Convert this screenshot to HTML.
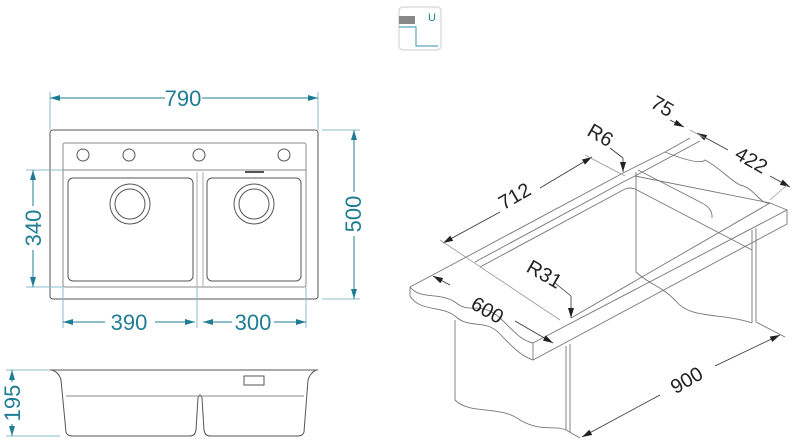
<!DOCTYPE html>
<html><head><meta charset="utf-8"><style>
html,body{margin:0;padding:0;background:#fff;}
svg{display:block;}
.t{font-family:"Liberation Sans",sans-serif;fill:#1f7d93;font-size:22px;}
.k{font-family:"Liberation Sans",sans-serif;fill:#222;font-size:20px;}
</style></head><body>
<svg width="800" height="448" viewBox="0 0 800 448" xmlns="http://www.w3.org/2000/svg">
<defs>
<marker id="a" viewBox="0 0 10 6" refX="10" refY="3" markerWidth="10" markerHeight="6" orient="auto-start-reverse" markerUnits="userSpaceOnUse"><path d="M0,0 L10,3 L0,6z" fill="#1f7d93"/></marker>
<marker id="b" viewBox="0 0 10 6" refX="10" refY="3" markerWidth="10" markerHeight="6" orient="auto-start-reverse" markerUnits="userSpaceOnUse"><path d="M0,0 L10,3 L0,6z" fill="#222"/></marker>
</defs>
<!-- icon -->
<rect x="399" y="7" width="42" height="43" rx="4" fill="#fff" stroke="#ccc"/>
<rect x="399" y="16" width="16" height="8" fill="#888"/>
<path d="M399,27 H416 V46 H438" fill="none" stroke="#5aa8c0" stroke-width="1.2"/>
<text x="428" y="21" font-family="Liberation Sans,sans-serif" font-size="11" fill="#1f7d93">U</text>

<g fill="none" stroke="#555" stroke-width="1">
<rect x="50" y="130" width="268" height="169" rx="3"/>
<rect x="63" y="143" width="243" height="144" rx="2" stroke="#888"/>
<line x1="63" y1="170" x2="306" y2="170" stroke="#888"/>
<circle cx="83" cy="155" r="6"/><circle cx="129" cy="155" r="6"/><circle cx="199" cy="155" r="6"/><circle cx="284" cy="155" r="6"/>
<rect x="68" y="178" width="125" height="103" rx="5"/>
<rect x="207" y="178" width="94" height="103" rx="5"/>
<line x1="197" y1="172" x2="197" y2="286" stroke="#aaa"/>
<line x1="203" y1="172" x2="203" y2="286" stroke="#aaa"/>
<circle cx="130" cy="204" r="20"/><circle cx="130" cy="204" r="15"/>
<circle cx="254" cy="204" r="20"/><circle cx="254" cy="204" r="15"/>
<line x1="245" y1="172" x2="264" y2="172" stroke-width="2"/>
<path d="M50,370 L318,370 M52,370 C58,372 60,376 61,380 L66,432 Q67,436 72,436 L190,436 Q195,436 196,430 L198,398 Q200,392 202,398 L204,430 Q205,436 210,436 L298,436 Q303,436 304,432 L308,380 C309,376 312,372 316,370"/>
<line x1="66" y1="396" x2="304" y2="396" stroke="#888"/>
<rect x="244" y="376" width="20" height="9"/>
</g>
<g stroke="#1f7d93" stroke-width="1" fill="none">
<line x1="50" y1="92" x2="50" y2="130" stroke="#8bc"/><line x1="318" y1="92" x2="318" y2="130" stroke="#8bc"/>
<line x1="50" y1="98" x2="165" y2="98" marker-start="url(#a)"/><line x1="202" y1="98" x2="318" y2="98" marker-end="url(#a)"/>
<line x1="322" y1="130" x2="360" y2="130" stroke="#8bc"/><line x1="322" y1="299" x2="360" y2="299" stroke="#8bc"/>
<line x1="354" y1="130" x2="354" y2="192" marker-start="url(#a)"/><line x1="354" y1="236" x2="354" y2="299" marker-end="url(#a)"/>
<line x1="26" y1="170" x2="63" y2="170" stroke="#8bc"/><line x1="26" y1="287" x2="63" y2="287" stroke="#8bc"/>
<line x1="33" y1="170" x2="33" y2="206" marker-start="url(#a)"/><line x1="33" y1="250" x2="33" y2="287" marker-end="url(#a)"/>
<line x1="63" y1="287" x2="63" y2="328" stroke="#8bc"/><line x1="197" y1="287" x2="197" y2="328" stroke="#8bc"/><line x1="306" y1="287" x2="306" y2="328" stroke="#8bc"/>
<line x1="63" y1="322" x2="105" y2="322" marker-start="url(#a)"/><line x1="155" y1="322" x2="195" y2="322" marker-end="url(#a)"/>
<line x1="203" y1="322" x2="232" y2="322" marker-start="url(#a)"/><line x1="274" y1="322" x2="306" y2="322" marker-end="url(#a)"/>
<line x1="6" y1="370" x2="50" y2="370" stroke="#8bc"/><line x1="6" y1="436" x2="60" y2="436" stroke="#8bc"/>
<line x1="12" y1="370" x2="12" y2="382" marker-start="url(#a)"/><line x1="12" y1="424" x2="12" y2="436" marker-end="url(#a)"/>
</g>
<text class="t" x="183" y="106" text-anchor="middle">790</text>
<text class="t" x="129" y="330" text-anchor="middle">390</text>
<text class="t" x="253" y="330" text-anchor="middle">300</text>
<text class="t" transform="translate(361,214) rotate(-90)" text-anchor="middle">500</text>
<text class="t" transform="translate(41,228) rotate(-90)" text-anchor="middle">340</text>
<text class="t" transform="translate(20,403) rotate(-90)" text-anchor="middle">195</text>

<g fill="none" stroke="#777" stroke-width="0.9">
<path d="M533,343 L787,210 L787,224 L533,360 Z"/>
<path d="M770,203 L787,210"/>
<path d="M410,287 C420,300 440,292 455,302 C470,315 480,300 500,318 C515,332 520,340 533,343"/>
<path d="M410,287 L410,296 C420,312 440,305 455,316 C470,330 485,318 500,334 C515,350 522,356 533,360"/>
<path d="M410,287 L457,262"/>
<path d="M457,262 L625,172 L665,152"/>
<path d="M475,262 L625,181"/>
<path d="M480,267 L625,189 Q630,187 635,189 L752,250"/>
<path d="M625,181 L635,176 L770,203"/>
<path d="M571,318 L770,203"/>
<path d="M665,152 L690,138"/>
<path d="M635,176 L700,141"/>
<path d="M638,170 L700,202 Q713,208 712,218"/>
<path d="M665,152 C680,158 700,165 705,160 C720,168 730,180 740,185 C755,188 760,205 770,203"/>
<path d="M636,172 L636,272 C650,285 660,285 675,300 C690,320 720,312 752,323"/>
<path d="M752,230 L752,323 M756,228 L756,322"/>
<path d="M566,346 L566,430 M570,344 L570,432"/>
<path d="M455,320 L455,400 C470,415 500,405 520,420 C540,432 555,425 566,430"/>
<path d="M566,430 L580,438"/>
<path d="M756,322 L785,337"/>
</g>
<g stroke="#333" stroke-width="0.8" fill="none">
<line x1="443" y1="243" x2="500" y2="212" marker-start="url(#b)"/><line x1="540" y1="188" x2="592" y2="157" marker-end="url(#b)"/>
<line x1="433" y1="276" x2="450" y2="285" marker-start="url(#b)"/><line x1="515" y1="321" x2="553" y2="343" marker-end="url(#b)"/>
<line x1="582" y1="437" x2="660" y2="395" marker-start="url(#b)"/><line x1="715" y1="366" x2="780" y2="335" marker-end="url(#b)"/>
<line x1="697" y1="133" x2="728" y2="150" marker-start="url(#b)"/><line x1="770" y1="176" x2="790" y2="187" marker-end="url(#b)"/>
<line x1="670" y1="120" x2="684" y2="127" marker-end="url(#b)"/>
<line x1="610" y1="148" x2="623" y2="158"/><line x1="623" y1="158" x2="623" y2="172" marker-end="url(#b)"/>
<line x1="555" y1="283" x2="571" y2="296"/><line x1="571" y1="296" x2="571" y2="318" marker-end="url(#b)"/>
<line x1="440" y1="240" x2="560" y2="320" stroke="#999"/>
<line x1="585" y1="155" x2="625" y2="176" stroke="#999"/>
<line x1="690" y1="130" x2="705" y2="138" stroke="#999"/>
<line x1="787" y1="185" x2="770" y2="200" stroke="#999"/>
</g>
<text class="k" transform="translate(484,316) rotate(30)" text-anchor="middle">600</text>
<text class="k" transform="translate(518,202) rotate(-30)" text-anchor="middle">712</text>
<text class="k" transform="translate(690,386) rotate(-30)" text-anchor="middle">900</text>
<text class="k" transform="translate(748,166) rotate(30)" text-anchor="middle">422</text>
<text class="k" transform="translate(659,112) rotate(30)" text-anchor="middle">75</text>
<text class="k" transform="translate(597,141) rotate(30)" text-anchor="middle">R6</text>
<text class="k" transform="translate(541,280) rotate(30)" text-anchor="middle">R31</text>
</svg>
</body></html>
